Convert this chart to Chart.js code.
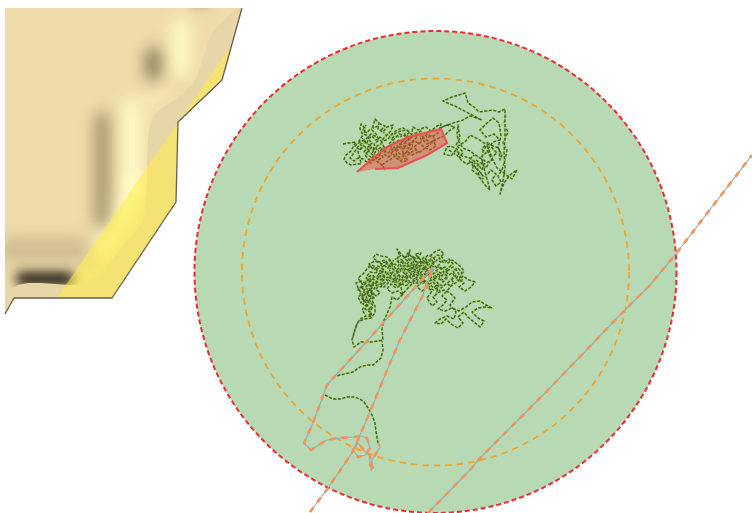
<!DOCTYPE html>
<html>
<head>
<meta charset="utf-8">
<style>
html, body { margin: 0; padding: 0; background: #fff; }
#wrap { width: 752px; height: 513px; }
canvas { display: block; filter: blur(0.4px); }
</style>
<script src="https://cdn.jsdelivr.net/npm/chart.js@4"></script>
</head>
<body>
<div id="wrap"><canvas id="map" width="752" height="513"></canvas></div>
<script>
// All values below are map positions
const land = [[5,8],[242,8],[222,80],[178,122],[176,202],[112,298],[14,298],[5,314]];
const coast = [[242,8],[222,80],[178,122],[176,202],[112,298],[14,298],[5,314]];
const inland = [[5,292],[10,289],[18,285],[28,283],[40,283],[55,284],[70,285],[82,284],[90,281],[97,276],[104,268],[112,259],[122,247],[132,236],[140,226],[144,215],[146,200],[147,180],[147,160],[148,140],[150,124],[154,115],[162,108],[172,101],[183,93],[192,85],[198,74],[203,58],[208,42],[214,31],[222,22],[230,14],[236,8],[5,8]];
const beach = [[57,298],[230,47],[222,80],[178,122],[176,202],[112,298]];
const ridgeA = [[132,108],[132,185]];
const ridgeB = [[181,28],[181,68]];
const ridgeC = [[134,185],[122,215],[100,248]];
const ridgeD = [[164,92],[142,106]];
const hollowA = [[102,118],[102,222]];
const hollowB = [[153,54],[153,74]];
const hollowC = [[4,250],[84,250]];
const hollowD = [[22,279],[68,279]];
const hollowE = [[194,5],[208,5]];

const zoneCentre = [[435.5,272]];
const redZone = [[357,172],[385,148],[408,137],[441,129],[447,143],[427,155],[398,168],[375,169]];

const upperTrack = [[343,144],[349,143],[356,142],[353,147],[351,151],[346,155],[344,159],[347,163],[351,165],[357,164],[361,164],[360,158],[358,152],[362,147],[359,141],[363,135],[360,129],[361,124],[365,128],[364,134],[369,137],[367,143],[372,147],[368,151],[373,155],[377,150],[374,144],[379,140],[376,134],[372,130],[374,123],[375,119],[379,123],[378,129],[383,132],[387,127],[393,125],[391,131],[386,136],[381,141],[384,147],[379,152],[383,157],[378,160],[374,156],[369,160],[365,155],[369,150],[364,146],[360,150],[355,146],[360,142],[366,139],[371,134],[377,137],[382,142],[388,139],[392,134],[397,130],[403,128],[408,131],[410,132],[405,136],[399,134],[394,139],[389,144],[393,149],[388,153],[384,151],[388,146],[394,144],[399,140],[405,142],[411,138],[413,127],[418,130],[423,128],[426,127],[431,131],[437,126],[441,124],[438,133],[432,137],[427,134],[422,139],[427,144],[433,141],[436,146],[430,150],[424,147],[419,143],[414,147],[418,152],[412,155],[407,151],[403,156],[408,160],[402,162],[396,158],[392,152],[397,148],[403,146],[409,148],[406,154],[400,154],[395,150],[399,145],[405,143],[411,146],[408,139],[414,136],[420,134],[425,139],[431,143],[437,139],[444,136],[449,131],[455,127],[447,125],[440,128],[447,125],[463,120],[470,116],[482,120],[470,114],[457,107],[443,101],[452,97],[465,93],[467,99],[468,103],[474,107],[479,112],[486,111],[493,110],[499,112],[505,109],[505,120],[505,138],[504,152],[505,168],[503,181],[500,194],[504,183],[510,175],[517,170],[512,179],[505,174],[497,168],[492,158],[487,145],[483,151],[482,160],[485,172],[490,190],[484,184],[479,176],[477,166],[485,161],[477,156],[470,151],[463,148],[459,142],[457,135],[458,125],[460,138],[456,145],[463,152],[460,158],[457,149],[451,146],[447,147],[444,154],[451,156],[456,150],[462,156],[470,158],[478,164],[482,170],[484,164],[492,160],[487,150],[493,142],[500,140],[494,134],[486,137],[480,130],[486,124],[493,118],[499,123],[501,136],[498,148],[502,155],[500,160],[499,148],[493,146],[484,143],[478,139],[470,135],[466,141],[458,146]];

const upperFill = [[362,138],[366,142],[363,146],[367,149],[371,146],[375,149],[372,153],[376,156],[380,154],[378,149],[382,147],[386,150],[384,154],[388,157],[392,155],[390,150],[394,147],[398,150],[396,154],[400,158],[404,155],[402,150],[406,147],[410,150],[413,147],[411,143],[415,141],[419,144],[422,141],[420,137],[424,135],[428,138],[431,135],[435,138],[433,142],[428,146],[424,149],[420,152],[415,150],[410,153],[405,158],[400,161],[395,156],[391,159],[386,162],[382,165],[385,170],[380,163],[376,161],[372,158],[368,155],[364,152],[368,147],[372,143],[368,139],[372,136],[376,140],[380,137],[384,140],[381,144],[377,146],[373,150],[369,145],[365,141],[361,144],[357,148],[354,153],[350,158],[354,161],[358,158],[363,159],[367,162],[371,163],[374,159],[379,157],[381,152],[386,148],[391,145],[395,142],[391,139],[395,136],[400,137],[404,134],[408,135],[405,139],[401,143],[397,146],[402,148],[407,145],[412,142],[416,138],[421,131],[416,133],[411,134],[407,130],[401,131],[396,133],[390,136],[385,134],[381,130],[385,126],[380,124],[376,127],[370,129],[367,133],[363,130],[366,125]];

const upperEast = [[449,150],[453,153],[457,155],[462,161],[467,164],[472,162],[476,168],[480,172],[483,176],[478,170],[473,166],[469,160],[474,155],[480,158],[486,153],[482,149],[488,142],[493,149],[497,153],[493,156],[489,163],[486,168],[482,164],[476,160],[472,170],[477,174],[481,180],[486,176],[491,170],[496,174],[492,180],[496,186],[501,182],[498,176],[502,170],[505,160],[507,150],[503,143],[508,132],[504,124],[506,114]];

const lowerTrack = [[353,337],[355,330],[358,322],[364,319],[371,318],[375,313],[375,306],[372,300],[374,294],[370,290],[366,296],[369,303],[365,309],[370,312],[373,306],[369,299],[364,302],[362,294],[358,297],[361,303],[364,296],[359,290],[356,283],[362,281],[367,285],[364,291],[370,293],[375,288],[371,282],[366,278],[372,275],[378,279],[375,285],[381,287],[385,282],[380,276],[384,270],[378,266],[374,270],[369,264],[375,261],[382,264],[388,268],[392,262],[387,257],[381,256],[376,254],[373,258],[379,262],[385,260],[389,265],[394,270],[390,276],[395,281],[400,276],[396,271],[401,266],[397,260],[399,254],[397,249],[401,254],[405,258],[409,254],[410,250],[408,258],[412,263],[407,267],[403,272],[408,277],[413,273],[417,278],[412,283],[406,281],[401,285],[396,288],[391,284],[387,289],[392,293],[398,291],[403,295],[399,280],[405,275],[410,270],[415,266],[420,262],[424,257],[428,262],[424,268],[429,272],[425,277],[420,273],[416,269],[421,265],[426,270],[431,266],[435,260],[431,255],[436,251],[440,250],[444,254],[439,258],[444,263],[449,259],[453,264],[448,268],[443,272],[448,277],[443,282],[438,278],[433,274],[438,269],[434,265],[429,260],[424,264],[419,258],[415,254],[421,253],[417,259],[412,256],[416,262],[411,268],[416,274],[421,279],[426,284],[431,280],[436,285],[441,288],[446,284],[451,280],[456,276],[453,271],[458,268],[462,273],[459,279],[464,283],[459,287],[465,291],[471,287],[475,282],[469,280],[463,276],[457,282],[451,286],[447,291],[442,296],[447,300],[443,305],[438,309],[445,311],[452,308],[459,311],[466,307],[472,302],[480,301],[486,305],[492,308],[485,307],[478,308],[472,312],[478,318],[484,321],[480,327],[474,322],[468,317],[464,312],[458,317],[463,323],[458,328],[451,324],[446,319],[441,324],[435,323],[440,319],[447,316],[454,319],[456,312],[450,305],[455,298],[450,293],[444,290],[438,293],[433,297],[437,302],[432,306],[427,298],[432,291],[427,287],[422,291],[417,287],[421,282],[416,279],[411,285],[406,290],[402,295],[397,300],[392,297],[390,307],[386,316],[383,323],[382,330],[383,340],[372,342],[361,342],[354,347],[352,340],[356,326],[360,319],[366,316],[362,310],[367,304],[362,298],[367,292],[372,288],[368,283],[373,279],[379,283],[384,287],[389,282],[384,277],[389,272],[394,276],[399,271],[404,266],[409,262],[404,258],[408,253],[413,258],[418,263],[414,269],[419,274],[424,270],[419,266],[423,260],[428,265],[433,270],[428,275],[433,279],[438,283],[434,288],[429,284],[424,280],[419,284],[414,281],[409,276],[404,280],[399,284],[394,279],[399,275],[394,266],[390,260],[386,264],[381,268],[386,272],[381,280],[377,275],[382,272],[377,268],[372,265],[367,269],[363,274],[358,278],[363,285],[358,290],[364,286],[369,278],[374,283],[369,288],[374,298],[369,296]];

const lowerCore = [[397,262],[400,259],[404,261],[402,265],[406,267],[409,264],[412,267],[410,271],[406,273],[403,270],[399,272],[396,269],[393,272],[395,276],[399,278],[403,276],[406,279],[410,277],[413,280],[416,277],[414,273],[417,270],[421,272],[419,276],[422,279],[426,277],[424,273],[428,270],[431,273],[429,277],[432,280],[436,278],[434,274],[437,271],[441,273],[439,277],[442,280],[446,278],[444,274],[447,271],[445,267],[441,269],[438,266],[441,262],[437,260],[434,263],[430,261],[432,257],[428,255],[425,258],[427,262],[423,264],[420,261],[417,264],[419,268],[415,270],[412,272],[409,269],[411,265],[414,262],[411,259],[407,261],[404,257],[401,255],[398,258],[394,260],[391,263],[393,267],[389,269],[386,267],[388,263],[384,262],[381,265],[383,269],[380,272],[383,275],[387,273],[390,276],[388,280],[392,282],[396,280],[394,284],[398,286],[402,283],[405,286],[409,284],[407,280],[411,282],[415,284],[418,281],[421,284],[425,282],[428,285],[431,283],[429,288],[433,290],[437,288],[440,291],[436,294],[439,284],[443,286],[447,283],[450,286],[454,283],[451,279],[455,276],[452,273],[449,275],[446,272],[450,269],[453,267],[456,270],[459,274],[456,279],[460,282],[463,279],[461,275],[464,271],[460,266],[456,263],[452,260],[448,263],[444,260],[441,256],[437,255],[434,258],[431,263],[427,266],[424,270],[421,268],[417,267],[413,265],[409,266],[405,263],[401,262],[398,266],[395,264],[392,266],[389,272],[392,275],[396,274],[400,270],[404,268],[408,270],[411,274],[414,276],[418,274],[422,276],[426,274],[430,276],[434,277],[438,274],[442,276],[444,270],[440,267],[436,268],[433,266],[429,268],[426,264],[422,266],[418,272],[415,275],[412,277],[408,275],[404,278],[400,281],[396,283],[392,279],[388,277],[385,279],[381,283],[384,285]];

const lowerWest = [[362,284],[365,281],[369,284],[366,288],[369,291],[373,289],[371,285],[375,283],[378,286],[376,290],[380,292],[377,296],[373,294],[370,297],[367,294],[363,292],[360,294],[363,297],[366,300],[363,304],[367,306],[370,303],[373,302],[371,307],[368,310],[371,313],[368,316],[372,316],[369,308],[366,304],[369,300],[372,297],[368,294],[364,290],[361,287],[364,283],[368,280],[372,283],[376,281],[379,284],[382,282],[379,278],[375,277],[371,279],[367,276],[370,272],[374,273],[378,272],[375,268],[371,268],[368,266]];

const lowerTail = [[333,377],[340,375],[353,372],[360,367],[367,365],[373,365],[381,358],[383,350],[382,341]];
const lowerLoop = [[325,395],[333,399],[340,399],[347,397],[354,397],[360,399],[364,402],[368,408],[372,415],[375,423],[376,432],[378,443]];

const routeA = [[310,512],[328,488],[352,453],[370,412],[390,363],[400,340],[422,297],[433,268]];
const routeB = [[433,268],[410,293],[383,323],[370,338],[348,362],[327,385],[313,423],[304,443],[311,450],[320,444],[327,440],[340,438],[353,437],[361,436],[367,438],[370,448],[365,455],[358,457],[353,450],[358,443],[362,448],[366,453],[370,455],[370,465],[373,467],[371,471],[372,460],[380,447],[378,443]];
const routeC = [[428,513],[470,470],[480,458],[550,388],[620,315],[650,285],[675,255],[712,207],[752,155]];

// dashes for the circles, blur and clipping for the soft terrain shading
const terrainPlugin = {
  id: 'terrain',
  beforeDatasetDraw(chart, args) {
    const ds = chart.data.datasets[args.index];
    const ctx = chart.ctx;
    ctx.save();
    if (ds.ringDash) ctx.setLineDash(ds.ringDash);
    if (ds.blur) {
      ctx.beginPath();
      ds.clipTo.forEach((p, i) => {
        const px = chart.scales.x.getPixelForValue(p[0]);
        const py = chart.scales.y.getPixelForValue(p[1]);
        if (i === 0) ctx.moveTo(px, py); else ctx.lineTo(px, py);
      });
      ctx.closePath();
      ctx.clip();
      ctx.filter = 'blur(' + ds.blur + 'px)';
    }
  },
  afterDatasetDraw(chart) {
    chart.ctx.restore();
  }
};

function line(data, color, width, dash) {
  return { data: data, showLine: true, borderColor: color, borderWidth: width, borderDash: dash || [], pointRadius: 0, fill: false, tension: 0, borderJoinStyle: 'round' };
}
function area(data, color) {
  return { data: data, showLine: true, borderWidth: 0, borderColor: 'transparent', backgroundColor: color, pointRadius: 0, fill: 'shape', tension: 0 };
}
function shade(data, color, width, blur) {
  return { data: data, showLine: true, borderColor: color, borderWidth: width, borderCapStyle: 'round', pointRadius: 0, fill: false, blur: blur, clipTo: inland };
}
function ring(radius, fill, stroke, width, dash) {
  return { data: zoneCentre, showLine: false, pointRadius: radius, pointBackgroundColor: fill, pointBorderColor: stroke, pointBorderWidth: width, ringDash: dash };
}
function track(data) {
  return [line(data, 'rgba(172,216,96,0.9)', 1.8), line(data, '#42602f', 1.4, [3, 1.6])];
}
function route(data) {
  return [line(data, '#8db2b0', 1.2), line(data, '#f7925c', 2.6, [6, 6])];
}

// first dataset in this list is painted first, the list is reversed for Chart.js
const layers = [
  area(land, '#e6d6a8'),
  area(inland, '#efdcab'),
  shade(ridgeA, '#fffcc8', 20, 8),
  shade(ridgeB, '#fffac2', 20, 8),
  shade(ridgeC, '#fffcc4', 20, 8),
  shade(ridgeD, '#f9ecb9', 12, 8),
  shade(hollowC, 'rgba(150,132,95,0.5)', 18, 10),
  shade(hollowA, 'rgba(115,100,70,0.75)', 12, 8),
  shade(hollowB, 'rgba(110,98,66,0.95)', 13, 8),
  shade(hollowE, 'rgba(150,132,95,0.5)', 6, 4),
  shade(hollowD, '#17130d', 13, 6),
  area(beach, 'rgba(255,238,70,0.55)'),
  line(coast, '#6a5c50', 1.3),
  ring(241, '#b7dab5', '#ec2a30', 2, [5, 3]),
  ring(193.5, 'rgba(0,0,0,0)', '#f3a52a', 1.8, [6.5, 5]),
  ...track(lowerLoop),
  ...track(lowerTail),
  ...track(upperEast),
  ...track(upperFill),
  ...track(upperTrack),
  ...track(lowerWest),
  ...track(lowerCore),
  ...track(lowerTrack),
  { ...area(redZone, 'rgba(235,70,60,0.5)'), borderColor: '#ee4d52', borderWidth: 2 },
  ...route(routeC),
  ...route(routeB),
  ...route(routeA)
];

new Chart(document.getElementById('map'), {
  type: 'scatter',
  data: { datasets: layers.reverse() },
  plugins: [terrainPlugin],
  options: {
    responsive: false,
    animation: false,
    devicePixelRatio: 1,
    events: [],
    layout: { padding: 0, autoPadding: false },
    scales: {
      x: { type: 'linear', display: false, min: 0, max: 752 },
      y: { type: 'linear', display: false, min: 0, max: 513, reverse: true }
    },
    plugins: { legend: { display: false }, tooltip: { enabled: false } }
  }
});
</script>
</body>
</html>
